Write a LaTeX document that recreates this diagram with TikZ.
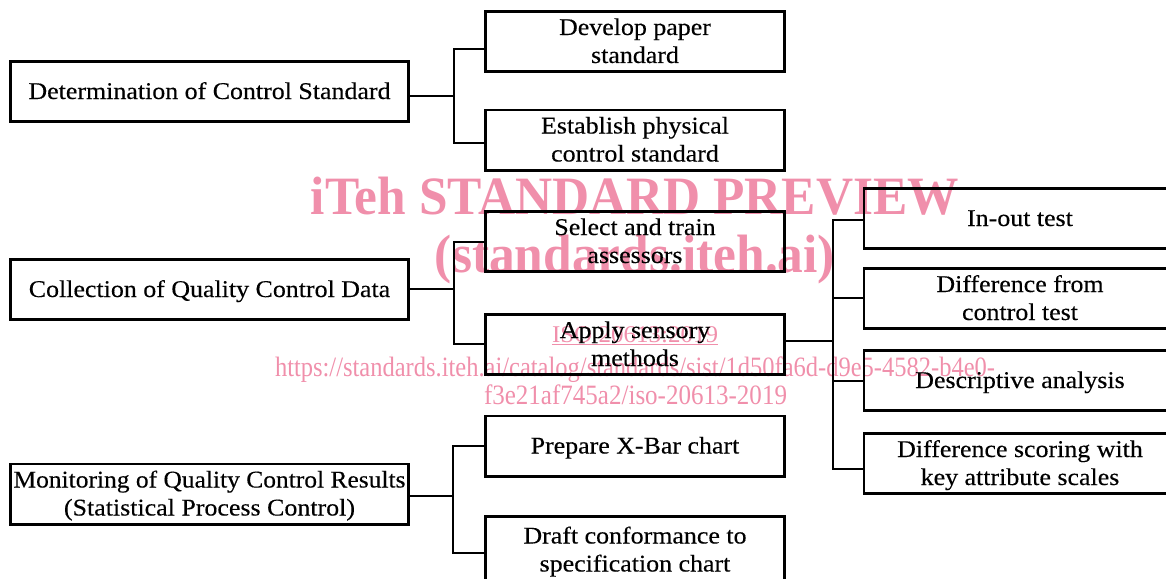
\documentclass[tikz,border=0pt]{standalone}
\usepackage{fontspec}
\usepackage{graphicx}
\setmainfont{Liberation Serif}[FakeStretch=1.08, FakeBold=0.3]
\newfontfamily\wmfont{Liberation Serif}
\definecolor{wmpink}{RGB}{240,143,171}
% line strut: fixed height/depth so every box line sits on the same grid
\newcommand\ts{\rule[-6pt]{0pt}{27pt}}
\tikzset{
  box/.style={draw=black, line width=2.8pt, minimum height=60.2pt, inner sep=0pt,
              align=center, font=\fontsize{24}{28}\selectfont},
  lbox/.style={box, minimum width=398.2pt},
  mbox/.style={box, minimum width=299.2pt},
  rbox/.style={box, minimum width=312pt},
  conn/.style={draw=black, line width=1.3pt},
  wmark/.style={text=wmpink, inner sep=0pt, anchor=base},
}
\begin{document}
\begin{tikzpicture}[x=1pt,y=-1pt]
\useasboundingbox (0,0) rectangle (1166,578);
\begin{scope}
\clip (0,0) rectangle (1166,578);

% preview stamp
\node[wmark, font=\wmfont\fontsize{54}{60}\selectfont\bfseries] (wm1) at (635,214)
  {\resizebox{648pt}{\height}{iTeh STANDARD PREVIEW}};
\node[wmark, font=\wmfont\fontsize{54}{60}\selectfont\bfseries] (wm2) at (635,272)
  {\resizebox{400pt}{\height}{(standards.iteh.ai)}};
\node[wmark, font=\wmfont\fontsize{24}{26}\selectfont] (wm3) at (635,342)
  {\resizebox{166pt}{\height}{ISO 20613:2019}};
\draw[wmpink, line width=1.2pt] ([yshift=-2.5pt]wm3.base west) -- ([yshift=-2.5pt]wm3.base east);
\node[wmark, font=\wmfont\fontsize{28}{32}\selectfont] (wm4) at (635,376)
  {\resizebox{720pt}{\height}{https://standards.iteh.ai/catalog/standards/sist/1d50fa6d-d9e5-4582-b4e0-}};
\node[wmark, font=\wmfont\fontsize{28}{32}\selectfont] (wm5) at (635.5,404)
  {\resizebox{303pt}{\height}{f3e21af745a2/iso-20613-2019}};

% top level
\node[lbox] (A) at (209.5,91.5) {\ts Determination of Control Standard};
\node[lbox] (B) at (209.5,289.5) {\ts Collection of Quality Control Data};
\node[lbox] (C) at (209.5,494)
  {\ts\resizebox{392pt}{\height}{Monitoring of Quality Control Results}\\
   \ts\resizebox{291pt}{\height}{(Statistical Process Control)}};

% second level
\node[mbox] (dev) at (635,41.5) {\ts Develop paper\\\ts standard};
\node[mbox] (est) at (635,140) {\ts Establish physical\\\ts control standard};
\node[mbox] (sel) at (635,241.5) {\ts Select and train\\\ts assessors};
\node[mbox] (app) at (635,344.5) {\ts Apply sensory\\\ts methods};
\node[mbox] (prep) at (635,446) {\ts Prepare X-Bar chart};
\node[mbox, minimum height=67.2pt] (draft) at (635,550) {\ts Draft conformance to\\\ts specification chart};

% sensory methods
\node[rbox] (io) at (1020,218.5) {\ts In-out test};
\node[rbox] (dfc) at (1020,298.5) {\ts Difference from\\\ts control test};
\node[rbox] (desc) at (1020,380.5) {\ts Descriptive analysis};
\node[rbox] (dsc) at (1020,463.5) {\ts Difference scoring with\\\ts key attribute scales};

% elbow connectors
\coordinate (jA) at (454,96);
\coordinate (jA1) at (454,49);
\coordinate (jA2) at (454,143);
\draw[conn] (A.east |- jA) -- (jA);
\draw[conn] (dev.west |- jA1) -- (jA1) -- (jA2) -- (est.west |- jA2);

\coordinate (jB) at (454,289);
\coordinate (jB1) at (454,242);
\coordinate (jB2) at (454,344);
\draw[conn] (B.east |- jB) -- (jB);
\draw[conn] (sel.west |- jB1) -- (jB1) -- (jB2) -- (app.west |- jB2);

\coordinate (jC) at (453,496);
\coordinate (jC1) at (453,446);
\coordinate (jC2) at (453,553);
\draw[conn] (C.east |- jC) -- (jC);
\draw[conn] (prep.west |- jC1) -- (jC1) -- (jC2) -- (draft.west |- jC2);

\coordinate (jD) at (833,341);
\coordinate (jD1) at (833,220);
\coordinate (jD2) at (833,298);
\coordinate (jD3) at (833,381);
\coordinate (jD4) at (833,469);
\draw[conn] (app.east |- jD) -- (jD);
\draw[conn] (io.west |- jD1) -- (jD1) -- (jD4) -- (dsc.west |- jD4);
\draw[conn] (jD2) -- (dfc.west |- jD2);
\draw[conn] (jD3) -- (desc.west |- jD3);
\end{scope}
\end{tikzpicture}
\end{document}
